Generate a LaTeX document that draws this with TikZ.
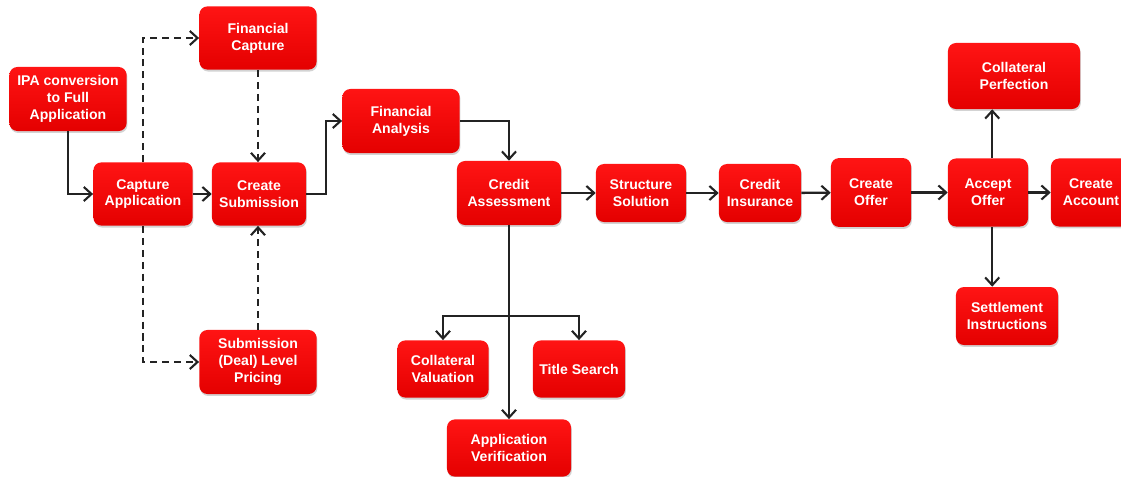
\documentclass[tikz,border=0pt]{standalone}
\usepackage{fontspec}
\setmainfont{Liberation Sans}
\usepackage{tikz}
\usetikzlibrary{arrows.meta,shadows}

\definecolor{boxtop}{RGB}{255,20,20}
\definecolor{boxbot}{RGB}{228,0,0}
\definecolor{linegrey}{RGB}{35,35,35}

\begin{document}
\begin{tikzpicture}[x=0.025cm,y=-0.025cm,
  box/.style={rounded corners=0.2cm,top color=boxtop,bottom color=boxbot,draw=none,
    drop shadow={shadow xshift=0.6pt,shadow yshift=-1.4pt,opacity=0.35},
    text=white,font=\fontsize{10}{12}\selectfont\bfseries,align=center,inner sep=2pt},
  flow/.style={draw=linegrey,line width=1.7pt,-{Straight Barb[length=5.5pt,width=10pt,line width=1.5pt]}},
  optional/.style={flow,dash pattern=on 5pt off 3.5pt}]
\useasboundingbox (0,0) rectangle (1121,476);

\node[box,minimum width=2.93cm,minimum height=1.6cm] (ipa) at (68,99) {IPA conversion\\to Full\\Application};
\node[box,minimum width=2.93cm,minimum height=1.58cm] (fincap) at (258,38) {Financial\\Capture};
\node[box,minimum width=2.48cm,minimum height=1.58cm] (capapp) at (143,194) {Capture\\Application};
\node[box,minimum width=2.35cm,minimum height=1.58cm] (createsub) at (259,194) {Create\\Submission};
\node[box,minimum width=2.93cm,minimum height=1.6cm] (pricing) at (258,362) {Submission\\(Deal) Level\\Pricing};
\node[box,minimum width=2.93cm,minimum height=1.6cm] (finanal) at (401,121) {Financial\\Analysis};
\node[box,minimum width=2.6cm,minimum height=1.6cm] (credass) at (509,193) {Credit\\Assessment};
\node[box,minimum width=2.25cm,minimum height=1.45cm] (structure) at (641,193) {Structure\\Solution};
\node[box,minimum width=2.05cm,minimum height=1.45cm] (insurance) at (760,193) {Credit\\Insurance};
\node[box,minimum width=2cm,minimum height=1.72cm] (offer) at (871,192.5) {Create\\Offer};
\node[box,minimum width=2cm,minimum height=1.7cm] (accept) at (988,192.5) {Accept\\Offer};
\node[box,minimum width=2cm,minimum height=1.7cm] (account) at (1091,192.5) {Create\\Account};
\node[box,minimum width=3.3cm,minimum height=1.65cm] (colperf) at (1014,76) {Collateral\\Perfection};
\node[box,minimum width=2.55cm,minimum height=1.45cm] (settle) at (1007,316) {Settlement\\Instructions};
\node[box,minimum width=2.28cm,minimum height=1.43cm] (colval) at (443,369) {Collateral\\Valuation};
\node[box,minimum width=2.3cm,minimum height=1.43cm] (title) at (579,369) {Title Search};
\node[box,minimum width=3.1cm,minimum height=1.43cm] (appver) at (509,448) {Application\\Verification};

% submission stage
\draw[flow] (ipa.south) |- (capapp.west);
\draw[flow] (capapp) -- (createsub);
\draw[optional] (capapp.north) |- (fincap.west);
\draw[optional] (fincap.south) -- (fincap.south |- createsub.north);
\draw[optional] (capapp.south) |- (pricing.west);
\draw[optional] (pricing.north) -- (pricing.north |- createsub.south);
\draw[flow] (createsub.east) -- ++(20,0) |- (finanal.west);
\draw[flow] (finanal.east) -| (credass.north);

% main line
\draw[flow] (credass) -- (structure);
\draw[flow] (structure) -- (insurance);
\draw[flow] (insurance) -- (offer);
\draw[flow] (offer) -- (accept);
\draw[flow] (accept) -- (account);
\draw[flow] ([xshift=3]accept.north) -- ([xshift=3]accept.north |- colperf.south);
\draw[flow] ([xshift=3]accept.south) -- ([xshift=3]accept.south |- settle.north);

% checks after assessment
\coordinate (split) at (509,316);
\draw[flow] (credass.south) -- (appver.north);
\draw[flow] (split) -| (colval.north);
\draw[flow] (split) -| (title.north);

\end{tikzpicture}
\end{document}
